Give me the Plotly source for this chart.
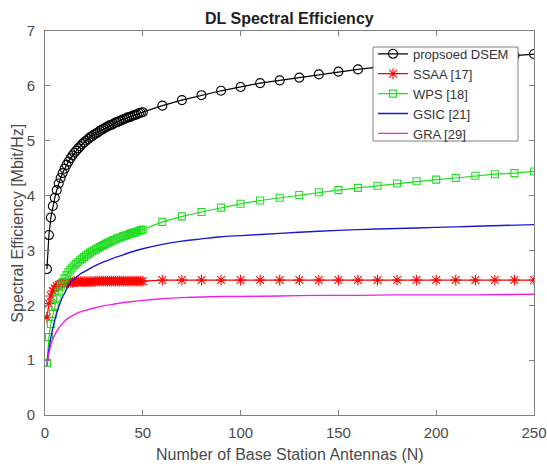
import plotly.graph_objects as go

# Number of base-station antennas: dense sweep 1..50, then every 10 up to 250
n_marked = list(range(1, 51)) + list(range(60, 251, 10))
n_line = [1, 2, 3, 4, 5, 6, 7, 8, 9, 10, 12, 14, 16, 18, 20, 25, 30, 35, 40, 45,
          50, 60, 70, 80, 90, 100, 120, 140, 160, 180, 200, 220, 250]

# Spectral efficiency [Mbit/Hz]
dsem = [2.66, 3.28, 3.60, 3.81, 3.96, 4.10, 4.22, 4.32, 4.41, 4.49,
        4.56, 4.62, 4.68, 4.73, 4.78, 4.82, 4.86, 4.90, 4.94, 4.97,
        5.00, 5.03, 5.06, 5.08, 5.11, 5.13, 5.15, 5.18, 5.20, 5.22,
        5.24, 5.26, 5.28, 5.29, 5.31, 5.33, 5.34, 5.36, 5.37, 5.39,
        5.40, 5.42, 5.43, 5.44, 5.46, 5.47, 5.48, 5.50, 5.51, 5.52,
        5.64, 5.74, 5.83, 5.91, 5.98, 6.05, 6.10, 6.15, 6.21, 6.26,
        6.30, 6.34, 6.38, 6.41, 6.44, 6.47, 6.50, 6.53, 6.55, 6.58]

ssaa = [1.78, 2.03, 2.17, 2.26, 2.31, 2.35, 2.37, 2.39, 2.40, 2.41,
        2.41, 2.42, 2.42, 2.42, 2.43, 2.43, 2.43, 2.43, 2.43, 2.43,
        2.43, 2.43, 2.43, 2.43, 2.43, 2.44, 2.44, 2.44, 2.44, 2.44,
        2.44, 2.44, 2.44, 2.44, 2.44, 2.44, 2.44, 2.44, 2.44, 2.44,
        2.44, 2.44, 2.44, 2.44, 2.44, 2.44, 2.44, 2.44, 2.44, 2.44,
        2.46, 2.46, 2.46, 2.46, 2.46, 2.46, 2.46, 2.46, 2.46, 2.46,
        2.46, 2.46, 2.46, 2.46, 2.46, 2.46, 2.46, 2.46, 2.46, 2.46]

wps = [0.95, 1.42, 1.66, 1.84, 1.99, 2.14, 2.25, 2.34, 2.42, 2.49,
       2.55, 2.60, 2.65, 2.69, 2.73, 2.76, 2.79, 2.82, 2.85, 2.88,
       2.91, 2.93, 2.96, 2.98, 3.00, 3.02, 3.04, 3.06, 3.08, 3.10,
       3.12, 3.14, 3.15, 3.17, 3.19, 3.20, 3.22, 3.23, 3.24, 3.26,
       3.27, 3.28, 3.30, 3.31, 3.32, 3.33, 3.34, 3.36, 3.37, 3.38,
       3.52, 3.62, 3.70, 3.78, 3.85, 3.91, 3.96, 4.01, 4.06, 4.10,
       4.14, 4.18, 4.22, 4.26, 4.29, 4.32, 4.36, 4.39, 4.41, 4.44]

gsic = [0.90, 1.20, 1.41, 1.58, 1.73, 1.86, 1.97, 2.07, 2.15, 2.22,
        2.36, 2.45, 2.51, 2.57, 2.61, 2.71, 2.79, 2.86, 2.92, 2.98,
        3.03, 3.11, 3.17, 3.21, 3.25, 3.27, 3.31, 3.35, 3.38, 3.40,
        3.42, 3.44, 3.47]

gra = [0.90, 1.12, 1.27, 1.38, 1.46, 1.53, 1.58, 1.63, 1.67, 1.71,
       1.77, 1.81, 1.85, 1.88, 1.90, 1.95, 1.99, 2.02, 2.05, 2.07,
       2.09, 2.12, 2.14, 2.15, 2.16, 2.16, 2.17, 2.18, 2.18, 2.19,
       2.19, 2.19, 2.20]

x_ticks = [0, 50, 100, 150, 200, 250]
y_ticks = [0, 1, 2, 3, 4, 5, 6, 7]

FONT = "Liberation Sans, Arial, Helvetica, sans-serif"
AXIS_GREY = "#808080"
TEXT_GREY = "#4a4a4a"

fig = go.Figure()

fig.add_trace(go.Scatter(
    x=n_marked, y=dsem, name="propsoed DSEM", mode="lines+markers",
    line=dict(color="#000000", width=1.2),
    marker=dict(symbol="circle-open", size=9, color="#000000",
                line=dict(width=1.1, color="#000000")),
))
fig.add_trace(go.Scatter(
    x=n_marked, y=ssaa, name="SSAA [17]", mode="lines+markers",
    line=dict(color="#ff0000", width=1.2),
    marker=dict(symbol="asterisk-open", size=9, color="#ff0000",
                line=dict(width=1.1, color="#ff0000")),
))
fig.add_trace(go.Scatter(
    x=n_marked, y=wps, name="WPS [18]", mode="lines+markers",
    line=dict(color="#22dd22", width=1.2),
    marker=dict(symbol="square-open", size=7, color="#22dd22",
                line=dict(width=1.1, color="#22dd22")),
))
fig.add_trace(go.Scatter(
    x=n_line, y=gsic, name="GSIC [21]", mode="lines",
    line=dict(color="#1a1acc", width=1.4, shape="spline", smoothing=0.6),
))
fig.add_trace(go.Scatter(
    x=n_line, y=gra, name="GRA [29]", mode="lines",
    line=dict(color="#ee22ee", width=1.4, shape="spline", smoothing=0.6),
))

axis_common = dict(
    showgrid=False, zeroline=False, automargin=False,
    showline=True, linecolor=AXIS_GREY, linewidth=1, mirror="ticks",
    ticks="inside", ticklen=5, tickwidth=1, tickcolor=AXIS_GREY,
    tickfont=dict(family=FONT, size=15, color=TEXT_GREY),
)

fig.update_xaxes(range=[0, 250], tickvals=x_ticks, ticklabelstandoff=4,
                 **axis_common)
fig.update_yaxes(range=[0, 7], tickvals=y_ticks, ticklabelstandoff=6,
                 **axis_common)

# White legend frame drawn over the curves; the legend entries sit on top of it
fig.add_shape(type="rect", xref="paper", yref="paper",
              x0=0.6708, x1=0.9673, y0=0.7135, y1=0.9583,
              line=dict(color=AXIS_GREY, width=1), fillcolor="#ffffff",
              layer="above")

fig.update_layout(
    width=547, height=466,
    margin=dict(l=45, r=13, t=31, b=51, autoexpand=False),
    paper_bgcolor="#ffffff", plot_bgcolor="#ffffff",
    title=dict(text="<b>DL Spectral Efficiency</b>", x=0.529, xanchor="center",
               y=0.961, yanchor="middle", yref="container",
               font=dict(family=FONT, size=16, color="#222222")),
    showlegend=True,
    legend=dict(x=0.6708, y=0.9795, xanchor="left", yanchor="top",
                bgcolor="rgba(0,0,0,0)", borderwidth=0,
                font=dict(family=FONT, size=13, color="#333333"),
                tracegroupgap=0, itemwidth=30),
    annotations=[
        dict(text="Number of Base Station Antennas (N)", xref="paper", yref="paper",
             x=0.5, y=-0.1016, xanchor="center", yanchor="middle", showarrow=False,
             font=dict(family=FONT, size=16, color=TEXT_GREY)),
        dict(text="Spectral Efficiency [Mbit/Hz]", xref="paper", yref="paper",
             x=-0.058, y=0.5, xanchor="center", yanchor="middle", showarrow=False,
             textangle=-90, font=dict(family=FONT, size=16, color=TEXT_GREY)),
    ],
)

fig.write_html("out.html")
